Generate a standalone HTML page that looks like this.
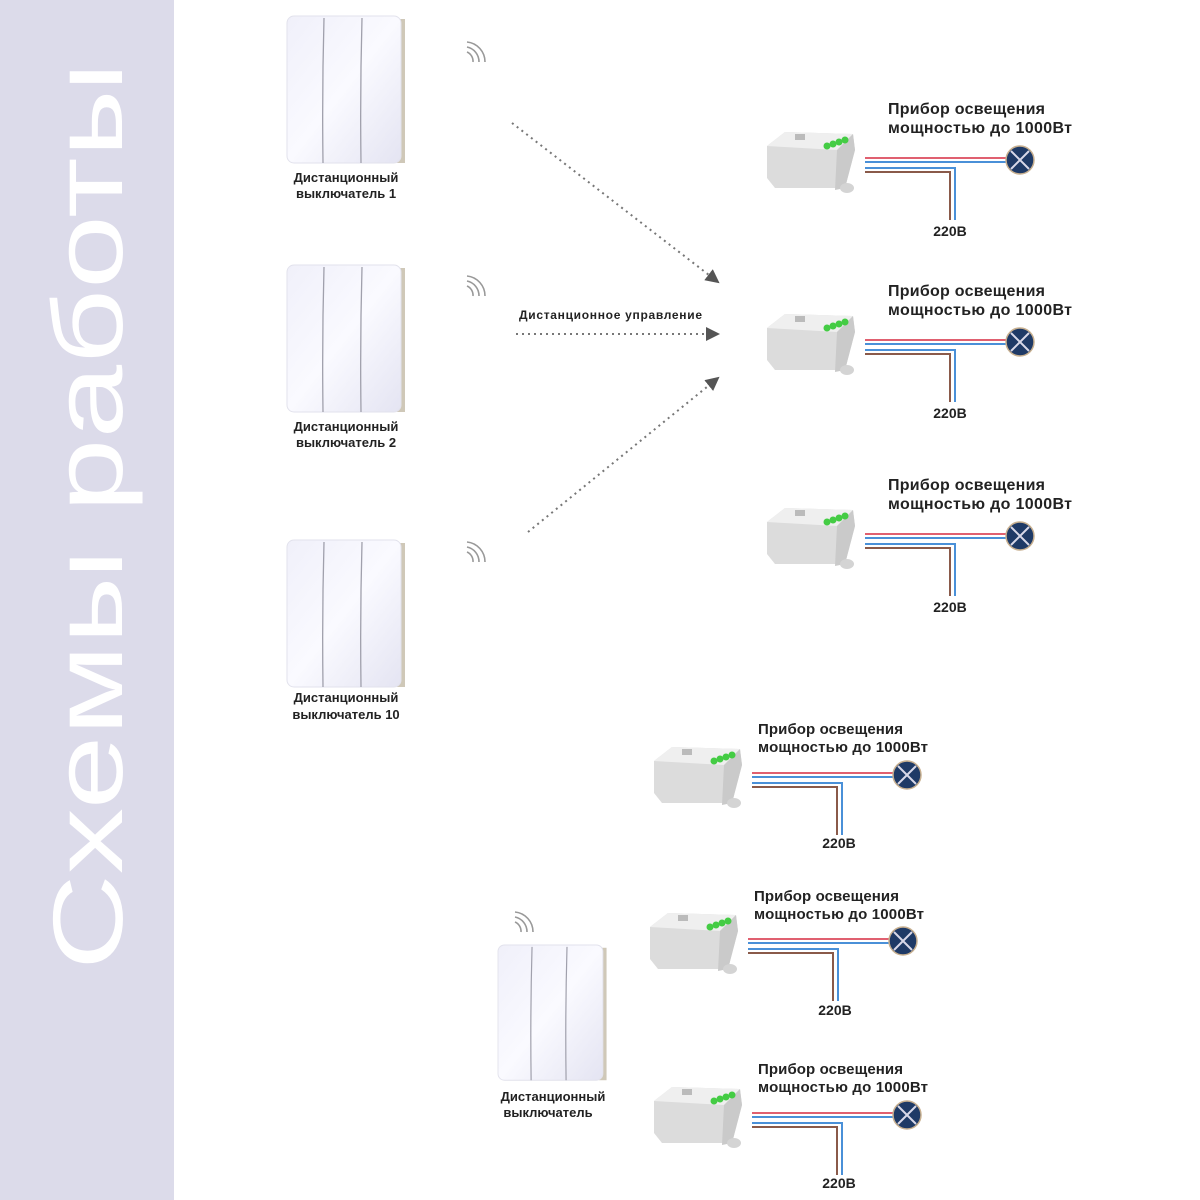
<!DOCTYPE html>
<html><head><meta charset="utf-8"><style>
html,body{margin:0;padding:0;background:#fff;}
svg{display:block;}
text{font-family:"Liberation Sans",sans-serif;}
.t{font-weight:bold;font-size:16px;fill:#222;}
.u{font-weight:bold;font-size:15px;fill:#222;}
.s{font-weight:bold;font-size:13px;fill:#222;text-anchor:middle;}
</style></head><body>
<svg width="1200" height="1200" viewBox="0 0 1200 1200" xmlns="http://www.w3.org/2000/svg">
<defs>
<linearGradient id="pg" x1="0" y1="0" x2="1" y2="1">
<stop offset="0" stop-color="#f0f0fa"/><stop offset="0.5" stop-color="#fafaff"/><stop offset="1" stop-color="#e4e4f2"/>
</linearGradient>
<g id="sw">
<rect x="110" y="3" width="8" height="144" fill="#cfc8b8"/>
<rect x="0" y="0" width="114" height="147" rx="7" fill="url(#pg)" stroke="#e2e2ec"/>
<path d="M37 2 Q35 75 36 147" stroke="#a0a0ac" stroke-width="1.3" fill="none"/>
<path d="M75 2 Q73 75 74 147" stroke="#a0a0ac" stroke-width="1.3" fill="none"/>
</g>
<g id="wf" fill="none" stroke="#999" stroke-width="1.6">
<path d="M2 8 A10 10 0 0 1 8 18"/><path d="M2 3 A15 15 0 0 1 14 18"/><path d="M2 -2 A20 20 0 0 1 20 18"/>
</g>
<g id="grp">
<polygon points="2,18 20,4 88,6 90,22 80,60 10,60 2,50" fill="#dcdcdc"/>
<polygon points="2,18 20,4 88,6 72,22" fill="#efefef"/>
<polygon points="72,22 88,6 90,22 80,60 70,62" fill="#cacaca"/>
<rect x="30" y="6" width="10" height="6" fill="#bbb"/>
<circle cx="62" cy="18" r="3.5" fill="#4c4"/><circle cx="68" cy="16" r="3.5" fill="#4c4"/><circle cx="74" cy="14" r="3.5" fill="#4c4"/><circle cx="80" cy="12" r="3.5" fill="#4c4"/>
<ellipse cx="82" cy="60" rx="7" ry="5" fill="#d4d4d4"/>
<line x1="100" y1="30" x2="250" y2="30" stroke="#e06070" stroke-width="2"/>
<line x1="100" y1="34" x2="250" y2="34" stroke="#4a90d8" stroke-width="2"/>
<polyline points="100,40 190,40 190,92" fill="none" stroke="#4a90d8" stroke-width="2"/>
<polyline points="100,44 185,44 185,92" fill="none" stroke="#8a5a4a" stroke-width="2"/>
<circle cx="255" cy="32" r="14" fill="#1f3a66" stroke="#c8b090" stroke-width="1.5"/>
<path d="M246 23 L264 41 M264 23 L246 41" stroke="#d8d8e8" stroke-width="2"/>
</g>
<marker id="ah" markerWidth="14" markerHeight="14" refX="12" refY="7" orient="auto" markerUnits="userSpaceOnUse"><path d="M0 0 L14 7 L0 14 Z" fill="#555"/></marker>
</defs>
<rect x="0" y="0" width="174" height="1200" fill="#dcdbea"/>
<text transform="translate(122,970) rotate(-90)" font-size="99" fill="#fff" textLength="908" lengthAdjust="spacingAndGlyphs">Схемы работы</text>

<use href="#sw" x="287" y="16"/>
<use href="#sw" x="287" y="265"/>
<use href="#sw" x="287" y="540"/>
<use href="#sw" transform="translate(498,945) scale(0.92)"/>
<text class="s" x="346" y="182">Дистанционный</text><text class="s" x="346" y="198">выключатель 1</text>
<text class="s" x="346" y="431">Дистанционный</text><text class="s" x="346" y="447">выключатель 2</text>
<text class="s" x="346" y="702">Дистанционный</text><text class="s" x="346" y="719">выключатель 10</text>
<text class="s" x="553" y="1101">Дистанционный</text><text class="s" x="548" y="1117">выключатель</text>

<use href="#wf" x="465" y="44"/>
<use href="#wf" x="465" y="278"/>
<use href="#wf" x="465" y="544"/>
<use href="#wf" x="513" y="914"/>

<g stroke="#777" stroke-width="2" stroke-dasharray="2 4" fill="none">
<line x1="512" y1="123" x2="718" y2="282" marker-end="url(#ah)"/>
<line x1="516" y1="334" x2="718" y2="334" marker-end="url(#ah)"/>
<line x1="528" y1="532" x2="718" y2="378" marker-end="url(#ah)"/>
</g>
<text x="519" y="319" font-size="12" font-weight="bold" fill="#222" textLength="183">Дистанционное управление</text>

<use href="#grp" x="765" y="128"/>
<text class="t" x="888" y="114" textLength="157">Прибор освещения</text><text class="t" x="888" y="133" textLength="184">мощностью до 1000Вт</text><text class="s" x="950" y="236" style="font-size:14px">220В</text>
<use href="#grp" x="765" y="310"/>
<text class="t" x="888" y="296" textLength="157">Прибор освещения</text><text class="t" x="888" y="315" textLength="184">мощностью до 1000Вт</text><text class="s" x="950" y="418" style="font-size:14px">220В</text>
<use href="#grp" x="765" y="504"/>
<text class="t" x="888" y="490" textLength="157">Прибор освещения</text><text class="t" x="888" y="509" textLength="184">мощностью до 1000Вт</text><text class="s" x="950" y="612" style="font-size:14px">220В</text>

<use href="#grp" x="652" y="743"/>
<text class="u" x="758" y="734" textLength="145">Прибор освещения</text><text class="u" x="758" y="752" textLength="170">мощностью до 1000Вт</text><text class="s" x="839" y="848" style="font-size:14px">220В</text>
<use href="#grp" x="648" y="909"/>
<text class="u" x="754" y="901" textLength="145">Прибор освещения</text><text class="u" x="754" y="919" textLength="170">мощностью до 1000Вт</text><text class="s" x="835" y="1015" style="font-size:14px">220В</text>
<use href="#grp" x="652" y="1083"/>
<text class="u" x="758" y="1074" textLength="145">Прибор освещения</text><text class="u" x="758" y="1092" textLength="170">мощностью до 1000Вт</text><text class="s" x="839" y="1188" style="font-size:14px">220В</text>
</svg>
</body></html>
